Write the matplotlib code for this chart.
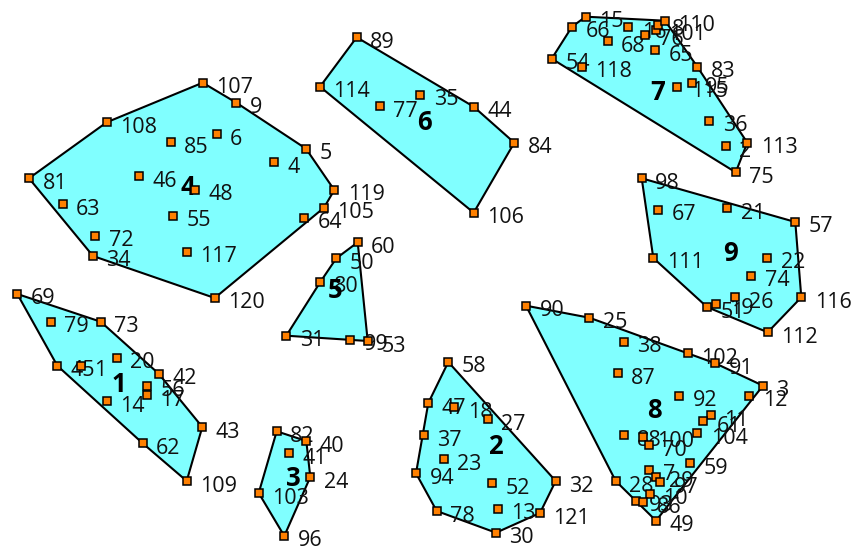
import matplotlib
matplotlib.use("Agg")
import matplotlib.pyplot as plt
from matplotlib.patches import Polygon

# ---- data (pixel-space coordinates) ----
point_ids = [
    # cluster 1
    69, 79, 73, 20, 45, 1, 42, 56, 17, 14, 43, 62, 109,
    # cluster 2
    58, 47, 18, 27, 37, 23, 94, 52, 32, 13, 121, 78, 30,
    # cluster 3
    82, 40, 41, 24, 103, 96,
    # cluster 4
    107, 9, 108, 85, 6, 5, 4, 81, 46, 48, 119, 105, 64, 63, 55, 72, 34, 117, 120,
    # cluster 5
    60, 50, 80, 31, 99, 53,
    # cluster 6
    89, 114, 77, 35, 44, 84, 106,
    # cluster 7
    15, 66, 54, 118, 68, 16, 76, 101, 8, 110, 65, 83, 115, 95, 36, 2, 113, 75,
    # cluster 8
    90, 25, 38, 102, 91, 87, 3, 12, 92, 11, 61, 104, 88, 100, 70, 59, 28,
    7, 29, 97, 10, 93, 86, 49,
    # cluster 9
    98, 67, 21, 57, 111, 22, 74, 26, 19, 51, 116, 112,
]
point_x = [
    17.3, 50.7, 100.7, 116.7, 57.3, 80.7, 158.7, 146.7, 146.7, 106.7, 202.3, 142.7, 186.7,
    448.3, 428.3, 454.3, 488.0, 424.0, 444.0, 416.0, 492.0, 555.7, 497.7, 540.0, 436.7, 496.0,
    276.7, 306.3, 288.7, 310.3, 258.7, 284.3,
    202.7, 236.3, 106.7, 170.7, 216.7, 306.0, 274.3, 29.0, 139.0, 195.0, 334.3, 324.0, 304.0,
    62.7, 172.7, 95.0, 93.0, 186.7, 214.7,
    357.7, 336.3, 320.3, 286.3, 350.3, 367.7,
    356.7, 320.0, 380.0, 420.3, 473.7, 514.3, 473.7,
    585.7, 572.0, 551.7, 581.7, 607.7, 628.3, 645.0, 656.0, 658.3, 665.0, 655.0, 697.3,
    677.3, 691.7, 709.3, 725.7, 747.3, 735.7,
    526.0, 589.3, 623.7, 687.7, 715.3, 617.7, 763.0, 749.3, 679.3, 711.0, 703.0, 697.3,
    623.7, 643.3, 648.7, 689.7, 615.7, 649.3, 655.7, 660.0, 650.0, 635.7, 643.3, 656.0,
    641.7, 658.0, 727.3, 795.3, 653.3, 767.3, 751.3, 735.0, 715.7, 707.0, 801.3, 767.7,
]
point_y = [
    294.0, 321.7, 321.7, 357.7, 365.7, 365.7, 373.7, 385.7, 395.3, 401.0, 427.0, 443.3, 481.0,
    362.0, 403.0, 407.3, 419.3, 435.3, 459.0, 473.3, 483.0, 481.0, 508.7, 513.0, 511.0, 532.7,
    431.3, 441.0, 453.0, 477.0, 493.0, 536.0,
    82.7, 102.7, 122.3, 142.3, 134.3, 148.7, 162.3, 178.3, 176.3, 190.0, 190.0, 207.7, 218.0,
    204.3, 216.0, 236.0, 256.0, 252.0, 298.0,
    242.3, 258.3, 282.0, 335.7, 339.7, 341.0,
    37.3, 86.7, 106.3, 94.7, 106.7, 142.7, 212.7,
    16.7, 26.7, 58.7, 66.7, 41.0, 27.0, 34.7, 29.7, 24.7, 20.7, 50.3, 66.7,
    86.7, 82.7, 120.7, 146.3, 142.7, 172.3,
    305.7, 317.7, 341.7, 353.3, 363.3, 373.3, 385.7, 395.7, 395.7, 415.0, 421.0, 433.3,
    435.3, 436.7, 445.0, 463.0, 481.0, 470.0, 476.7, 482.3, 494.0, 500.7, 502.3, 520.7,
    178.3, 210.0, 208.3, 222.0, 258.0, 258.0, 276.0, 297.3, 304.0, 307.0, 297.3, 332.3,
]
point_cluster = ([1] * 13 + [2] * 13 + [3] * 6 + [4] * 19 + [5] * 6 + [6] * 7
                 + [7] * 18 + [8] * 24 + [9] * 12)

cluster_ids = [1, 2, 3, 4, 5, 6, 7, 8, 9]
cluster_label_x = [118.5, 495.0, 293.0, 188.0, 335.5, 424.5, 658.0, 654.5, 730.7]
cluster_label_y = [385.0, 446.0, 479.0, 187.5, 290.0, 122.0, 92.0, 411.0, 253.5]


def convex_hull(pts):
    pts = sorted(set(pts))
    if len(pts) <= 2:
        return pts

    def cross(o, a, b):
        return (a[0] - o[0]) * (b[1] - o[1]) - (a[1] - o[1]) * (b[0] - o[0])

    lower, upper = [], []
    for p in pts:
        while len(lower) >= 2 and cross(lower[-2], lower[-1], p) <= 0:
            lower.pop()
        lower.append(p)
    for p in reversed(pts):
        while len(upper) >= 2 and cross(upper[-2], upper[-1], p) <= 0:
            upper.pop()
        upper.append(p)
    return lower[:-1] + upper[:-1]


W, H = 858, 548
fig = plt.figure(figsize=(W / 100, H / 100), dpi=100)
ax = fig.add_axes([0, 0, 1, 1])
ax.set_xlim(0, W)
ax.set_ylim(H, 0)
ax.axis("off")

FONT = ["Open Sans", "DejaVu Sans"]

for cid in cluster_ids:
    pts = [(x, y) for x, y, c in zip(point_x, point_y, point_cluster) if c == cid]
    hull = convex_hull(pts)
    ax.add_patch(Polygon(hull, closed=True, facecolor="#80ffff",
                         edgecolor="black", linewidth=1.5, zorder=1))

for pid, x, y in zip(point_ids, point_x, point_y):
    ax.text(x + 13.5, y + 10.5, str(pid), fontsize=15.5, family=FONT,
            color="#111111", ha="left", va="baseline", zorder=3)

ax.plot(point_x, point_y, linestyle="none", marker="s", markersize=5.8,
        markerfacecolor="#ff8000", markeredgecolor="black",
        markeredgewidth=1.1, zorder=4)

for cid, cx, cy in zip(cluster_ids, cluster_label_x, cluster_label_y):
    ax.text(cx, cy, str(cid), fontsize=18.5, fontweight="bold", family=FONT,
            color="black", ha="center", va="center", zorder=3.5)

fig.savefig("out.png", dpi=100)
